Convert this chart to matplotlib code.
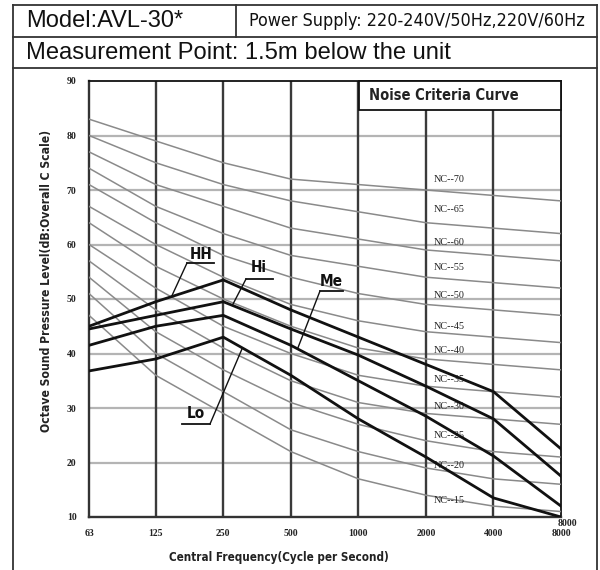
import matplotlib
matplotlib.use("Agg")
import matplotlib.pyplot as plt
from matplotlib.patches import Rectangle
from matplotlib.lines import Line2D
from matplotlib import font_manager as fm
from matplotlib.font_manager import FontProperties

# ---------------- data ----------------
freqs = [63, 125, 250, 500, 1000, 2000, 4000, 8000]
freq_labels = ["63", "125", "250", "500", "1000", "2000", "4000", "8000"]
y_ticks = [10, 20, 30, 40, 50, 60, 70, 80, 90]

nc_names = ["NC--70", "NC--65", "NC--60", "NC--55", "NC--50", "NC--45",
            "NC--40", "NC--35", "NC--30", "NC--25", "NC--20", "NC--15"]
nc70 = [83, 79, 75, 72, 71, 70, 69, 68]
nc65 = [80, 75, 71, 68, 66, 64, 63, 62]
nc60 = [77, 71, 67, 63, 61, 59, 58, 57]
nc55 = [74, 67, 62, 58, 56, 54, 53, 52]
nc50 = [71, 64, 58, 54, 51, 49, 48, 47]
nc45 = [67, 60, 54, 49, 46, 44, 43, 42]
nc40 = [64, 56, 50, 45, 41, 39, 38, 37]
nc35 = [60, 52, 45, 40, 36, 34, 33, 32]
nc30 = [57, 48, 41, 35, 31, 29, 28, 27]
nc25 = [54, 44, 37, 31, 27, 24, 22, 21]
nc20 = [51, 40, 33, 26, 22, 19, 17, 16]
nc15 = [47, 36, 29, 22, 17, 14, 12, 11]

hh = [45.0, 49.5, 53.5, 48.0, 43.0, 38.0, 33.0, 22.5]
hi = [44.5, 47.0, 49.5, 44.5, 39.7, 34.0, 28.0, 17.5]
me = [41.5, 45.0, 47.0, 41.5, 35.0, 28.5, 21.2, 12.0]
lo = [36.8, 39.0, 43.0, 36.0, 28.0, 21.0, 13.5, 10.0]


# ---------------- fonts ----------------
def find_condensed(bold):
    best = None
    for f in fm.fontManager.ttflist:
        st = f.stretch
        name = f.name.lower()
        if isinstance(st, str):
            is_c = "condensed" in st
        else:
            is_c = st < 500
        if "narrow" in name or "condensed" in name:
            is_c = True
        if not is_c:
            continue
        if "sans" not in name and "roboto" not in name:
            continue
        if "mono" in name:
            continue
        w = f.weight if isinstance(f.weight, int) else (700 if "bold" in str(f.weight) else 400)
        if bold and w < 600:
            continue
        if not bold and w >= 600:
            continue
        if "oblique" in f.style or "italic" in f.style:
            continue
        score = abs(w - (700 if bold else 400))
        if best is None or score < best[0]:
            best = (score, f.fname)
    return best[1] if best else None


c_reg = find_condensed(False)
c_bold = find_condensed(True)


def narrow_fp(bold=False):
    path = c_bold if bold else c_reg
    if path:
        return FontProperties(fname=path)
    return FontProperties(family=["Roboto", "Liberation Sans", "DejaVu Sans"],
                          weight="bold" if bold else "normal")


SANS = ["Liberation Sans", "DejaVu Sans"]
SERIF = ["Liberation Serif", "DejaVu Serif"]

W, H = 600, 570
fig = plt.figure(figsize=(W / 100, H / 100), dpi=100)
renderer = fig.canvas.get_renderer()


def fx(px):
    return px / W


def fy(py):
    return 1 - py / H


def fit(t, target, vertical=False):
    bb = t.get_window_extent(renderer)
    cur = bb.height if vertical else bb.width
    if cur > 0:
        t.set_fontsize(t.get_fontsize() * target / cur)


# ---------------- header table ----------------
tcol = "#333333"
border = dict(color=tcol, lw=1.3, transform=fig.transFigure)
fig.add_artist(Line2D([fx(13), fx(597)], [fy(5), fy(5)], **border))
fig.add_artist(Line2D([fx(13), fx(13)], [fy(5), fy(575)], **border))
fig.add_artist(Line2D([fx(597), fx(597)], [fy(5), fy(575)], **border))
fig.add_artist(Line2D([fx(13), fx(597)], [fy(37), fy(37)], **border))
fig.add_artist(Line2D([fx(13), fx(597)], [fy(68), fy(68)], **border))
fig.add_artist(Line2D([fx(236), fx(236)], [fy(5), fy(37)], **border))

t1 = fig.text(fx(26), fy(21), "Model:AVL-30*", family=SANS, fontsize=15,
              va="center", ha="left", color="#111111")
fit(t1, 158)
t2 = fig.text(fx(249), fy(21), "Power Supply: 220-240V/50Hz,220V/60Hz",
              fontproperties=narrow_fp(False), va="center", ha="left", color="#111111")
t2.set_fontsize(14)
fit(t2, 337)
t3 = fig.text(fx(26), fy(53), "Measurement Point: 1.5m below the unit", family=SANS,
              fontsize=15, va="center", ha="left", color="#111111")
fit(t3, 428)

# ---------------- chart ----------------
ax_l, ax_r, ax_t, ax_b = 89, 561, 81, 517
ax = fig.add_axes([fx(ax_l), fy(ax_b), (ax_r - ax_l) / W, (ax_b - ax_t) / H])
ax.set_xscale("log", base=2)
ax.set_xlim(freqs[0], freqs[-1])
ax.set_ylim(10, 90)
ax.set_xticks(freqs)
ax.set_xticklabels(freq_labels)
ax.xaxis.set_minor_locator(matplotlib.ticker.NullLocator())
ax.set_yticks(y_ticks)
ax.set_yticklabels([str(v) for v in y_ticks])
ax.tick_params(length=0, labelsize=7, pad=9)
for lab in ax.get_xticklabels() + ax.get_yticklabels():
    lab.set_family(SERIF)
    lab.set_fontweight("bold")
    lab.set_color("#222222")

for v in y_ticks[1:-1]:
    ax.axhline(v, color="#b4b4b4", lw=1.6, zorder=1)
for f in freqs[1:-1]:
    ax.axvline(f, color="#3a3a3a", lw=1.7, zorder=2)

for sp in ["left", "bottom"]:
    ax.spines[sp].set_color("#333333")
    ax.spines[sp].set_linewidth(1.7)
for sp in ["top", "right"]:
    ax.spines[sp].set_color("#111111")
    ax.spines[sp].set_linewidth(1.3)

nc_curves = [nc70, nc65, nc60, nc55, nc50, nc45, nc40, nc35, nc30, nc25, nc20, nc15]
for curve in nc_curves:
    ax.plot(freqs, curve, color="#8a8a8a", lw=1.1, zorder=3, solid_joinstyle="round")

for series in [hh, hi, me, lo]:
    ax.plot(freqs, series, color="#111111", lw=2.0, zorder=5)

# NC labels (layout positions)
nc_label_y = [72.0, 66.5, 60.3, 55.7, 50.7, 45.0, 40.6, 35.3, 30.2, 25.0, 19.5, 13.0]
for name, yv in zip(nc_names, nc_label_y):
    ax.text(2170, yv, name, family=SERIF, fontsize=7.3, va="center", ha="left",
            color="#222222", zorder=4)

# Noise Criteria Curve box
bx0 = (359 - ax_l) / (ax_r - ax_l)
by0 = (ax_b - 109.5) / (ax_b - ax_t)
ax.add_patch(Rectangle((bx0, by0), 1 - bx0, 1 - by0, transform=ax.transAxes,
                       facecolor="white", edgecolor="#111111", lw=1.3,
                       zorder=6, clip_on=False))
tb = ax.text((444 - ax_l) / (ax_r - ax_l), (ax_b - 95) / (ax_b - ax_t),
             "Noise Criteria Curve", transform=ax.transAxes,
             fontproperties=narrow_fp(True), ha="center", va="center",
             color="#222222", zorder=7)
tb.set_fontsize(10.5)
fit(tb, 150)

# extra 8000 label
fig.text(fx(567), fy(524), "8000", family=SERIF, fontsize=7, fontweight="bold",
         ha="center", va="center", color="#222222")

# axis labels
ty = fig.text(fx(47), fy(281), "Octave Sound Pressure Level(dB:Overall C Scale)",
              fontproperties=narrow_fp(True), rotation=90,
              ha="center", va="center", color="#222222")
ty.set_fontsize(9)
fit(ty, 305, vertical=True)
tx = fig.text(fx(279), fy(557), "Central Frequency(Cycle per Second)",
              fontproperties=narrow_fp(True),
              ha="center", va="center", color="#222222")
tx.set_fontsize(9.5)
fit(tx, 220)


# series labels with underline and leader
def tag(text, tx_, ty_, ux0, ux1, uy, lead_from, xy, size):
    t = fig.text(fx(tx_), fy(ty_), text, fontproperties=narrow_fp(True),
                 ha="center", va="center", color="#111111")
    t.set_fontsize(size)
    fig.add_artist(Line2D([fx(ux0), fx(ux1)], [fy(uy), fy(uy)], color="#111111",
                          lw=1.3, transform=fig.transFigure))
    ax.annotate("", xy=xy, xycoords="data",
                xytext=(lead_from, H - uy), textcoords="figure pixels",
                arrowprops=dict(arrowstyle="-", lw=1.0, color="#111111",
                                shrinkA=0, shrinkB=0), zorder=8)
    return t


lab_size = 11

tag("HH", 201, 254, 187, 214, 263, 187, (146.8, 50.4), lab_size)
tag("Hi", 259, 268, 246, 273, 279, 246, (274.0, 48.8), lab_size)
tag("Me", 331, 282, 320, 343, 291, 320, (536.0, 40.9), lab_size)
tag("Lo", 196, 414, 182, 210, 424, 210, (304.0, 41.0), lab_size)

fig.savefig("out.png", dpi=100)
